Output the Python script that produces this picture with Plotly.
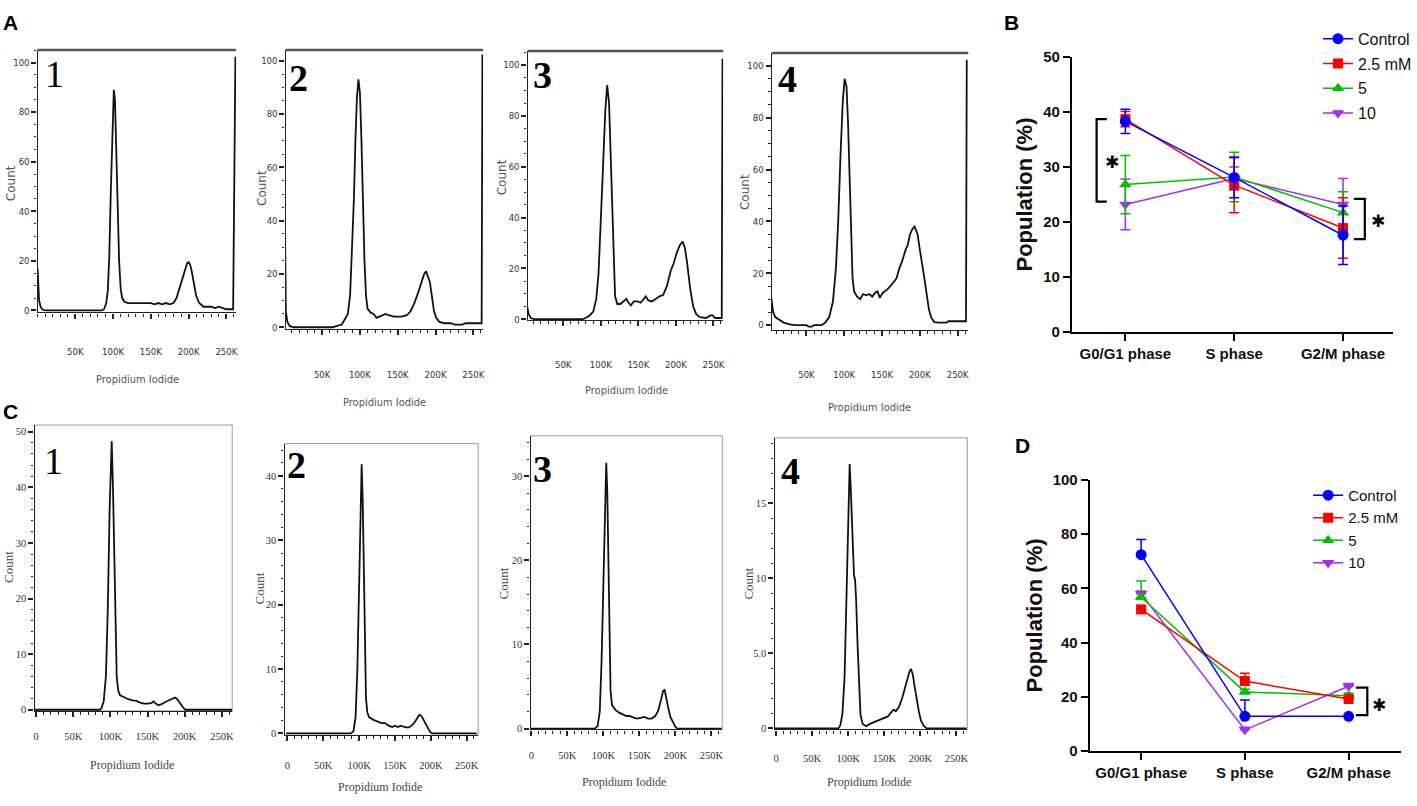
import plotly.graph_objects as go

# ======================= DATA =======================
# Panel A histograms: x = Propidium Iodide (thousands), y = Count
a1_x = [0, 1, 2, 4, 6, 10, 40, 85, 88, 91, 93, 95, 97, 99, 101, 102.5, 104, 106, 108, 110, 112, 115, 120,
        130, 150, 155, 160, 165, 170, 175, 180, 184, 187, 190, 193, 196, 198, 200, 202, 204, 207, 210, 214,
        220, 230, 235, 240, 250, 259, 262, 263]
a1_y = [17, 9, 4, 1.5, 0.5, 0, 0, 0, 0.5, 3, 8, 22, 48, 75, 89, 85, 68, 42, 20, 9, 5, 3.5, 3,
        3, 3, 2.5, 3, 2.5, 3, 2.5, 3, 5, 8, 11, 13, 17, 19, 19.5, 18.5, 16, 11, 6, 3,
        1.5, 1.5, 1, 1.5, 0.5, 0.5, 102, 102]

a2_x = [0, 0.8, 2, 4, 7, 12, 64, 70, 76, 80, 84, 87, 90, 92, 94, 96, 98, 100, 102, 104, 106, 108, 110,
        114, 118, 122, 126, 130, 134, 138, 145, 155, 162, 167, 172, 177, 181, 185, 187.5, 190, 192.5, 195,
        198, 201, 205, 212, 220, 226, 235, 240, 261, 262, 263]
a2_y = [62, 20, 6, 2, 0.5, 0, 0, 0.5, 1, 3, 5, 12, 30, 48, 70, 86, 93, 88, 70, 46, 25, 12, 7,
        5.5, 5, 3.5, 4, 4.5, 5, 4.5, 4, 4, 4.5, 6, 9, 13, 17, 20, 21, 19, 17, 12,
        6, 3.5, 2, 1.5, 1.5, 1, 1, 1.5, 1.5, 102, 102]

a3_x = [0, 0.8, 2, 4, 7, 12, 75, 80, 85, 90, 94, 97, 100, 103, 106, 108.5, 111, 113, 115, 117, 119, 122,
        126, 130, 134, 137, 140, 144, 149, 153, 157, 160, 163, 168, 173, 178, 183, 188, 193, 197, 201, 205,
        209, 212, 215, 219, 223, 227, 232, 240, 246, 249, 252, 261, 262, 263]
a3_y = [44, 15, 5, 2, 0.5, 0, 0, 0.5, 1.5, 3, 8, 18, 36, 60, 82, 92, 85, 66, 40, 20, 9, 6,
        6, 7, 8, 6.5, 5.5, 7, 7, 6.5, 8, 9, 7.5, 7, 8, 9, 9.5, 13, 19, 22, 26, 29,
        30.5, 28, 22, 12, 5, 2, 0.8, 0.5, 1.5, 1.5, 0.5, 0.5, 102, 102]

a4_x = [2, 4, 6, 9, 14, 20, 28, 35, 50, 53, 57, 60, 70, 75, 80, 85, 89, 92, 95, 98, 100.5, 103, 105, 107,
        109, 111, 113, 117, 121, 125, 129, 133, 137, 141, 144, 147, 151, 156, 161, 165, 169, 173, 177, 181,
        184, 187, 190, 193, 197, 200, 203, 206, 209, 212, 215, 219, 225, 235, 238, 261, 262, 263]
a4_y = [14, 10, 5, 3, 2, 1, 0.3, 0, 0, -0.6, -0.6, 0, 0, 1, 3, 9, 22, 40, 65, 86, 95, 92, 78, 55,
        32, 18, 13, 11, 10, 12, 11.5, 12, 11, 12.5, 13, 10.5, 12.5, 13.5, 15, 16.5, 18, 22, 25, 29,
        31, 35, 37, 38, 35, 29, 24, 18, 12, 6, 3, 1.2, 1, 1, 1.5, 1.5, 102, 102]

# Panel C histograms
c1_x = [-2, 86, 88, 91, 94, 96.5, 99, 100.8, 101.8, 103.5, 105, 107, 108.5, 110.5, 113, 118, 124, 130, 135,
        140, 145, 150, 155, 158, 161, 165, 169, 174, 179, 184, 187, 190, 194, 198, 201, 264]
c1_y = [0, 0, 0.3, 1.5, 6, 18, 36, 46, 48.3, 40, 28, 13, 6, 3.5, 2.6, 2.3, 1.9, 1.7, 1.6,
        1.3, 1.1, 1.1, 1.2, 1.5, 1.1, 0.8, 1.0, 1.4, 1.7, 2.0, 2.2, 1.9, 1.1, 0.4, 0, 0]

c2_x = [-2, 88, 92, 95, 97.5, 100, 102, 103.5, 105, 106.5, 108, 109.5, 111.5, 114, 120, 126, 131, 136, 141,
        146, 150, 154, 158, 163, 168, 172, 176, 180, 184, 187, 191, 195, 199, 202, 264]
c2_y = [0, 0, 0.3, 2.5, 10, 25, 37, 41.8, 36, 24, 12, 5.5, 3.2, 2.5, 2.1, 1.8, 1.6, 1.6, 1.2,
        1.0, 1.2, 1.0, 1.2, 1.0, 0.9, 1.1, 1.5, 2.2, 2.9, 2.7, 1.8, 0.9, 0.2, 0, 0]

c3_x = [-2, 88, 92, 95, 97.5, 100, 102, 104, 105.5, 107, 108.5, 110, 112, 117, 122, 127, 132, 137, 142,
        147, 152, 157, 162, 167, 172, 176, 180, 183, 185, 187, 190, 193, 197, 200, 203, 264]
c3_y = [0, 0, 0.3, 2, 8, 17, 26, 31.6, 28, 20, 11, 4.5, 2.8, 2.2, 1.9, 1.7, 1.5, 1.5, 1.3,
        1.2, 1.3, 1.4, 1.2, 1.2, 1.5, 2.1, 3.4, 4.5, 4.6, 3.9, 2.5, 1.4, 0.7, 0.2, 0, 0]

c4_x = [-2, 86, 89, 92, 95, 97.5, 99.5, 101, 102, 103.5, 105, 106.5, 108, 109.5, 111, 113, 115, 117, 120,
        125, 130, 135, 140, 145, 150, 155, 160, 163, 166, 170, 174, 178, 182, 185, 187, 189.5, 192, 195,
        198, 201, 205, 209, 264]
c4_y = [0, 0, 0.2, 1, 3.5, 8.5, 14, 17, 17.6, 16, 13.5, 11, 10.2, 9.9, 8.5, 5.5, 2.5, 0.9, 0.3,
        0.15, 0.3, 0.4, 0.5, 0.6, 0.65, 0.8, 1.1, 1.25, 1.15, 1.4, 1.9, 2.6, 3.3, 3.8, 3.95, 3.6, 2.8, 1.9,
        1.1, 0.5, 0.15, 0, 0]

a_xticks = [50, 100, 150, 200, 250]
a_xticktext = ["50K", "100K", "150K", "200K", "250K"]
c_xticks = [0, 50, 100, 150, 200, 250]
c_xticktext = ["0", "50K", "100K", "150K", "200K", "250K"]
a_yticks = [0, 20, 40, 60, 80, 100]
c1_yticks = [0, 10, 20, 30, 40, 50]
c2_yticks = [0, 10, 20, 30, 40]
c3_yticks = [0, 10, 20, 30]
c4_yticks = [0, 5, 10, 15]
c4_yticktext = ["0", "5.0", "10", "15"]

# Panels B and D: cell-cycle populations (%)
phases = ["G0/G1 phase", "S phase", "G2/M phase"]
series_names = ["Control", "2.5 mM", "5", "10"]

b_control = [38.3, 28.1, 17.6]
b_control_err = [2.2, 3.7, 5.3]
b_25 = [38.7, 26.7, 18.9]
b_25_err = [1.4, 5.0, 5.5]
b_5 = [26.8, 28.2, 21.7]
b_5_err = [5.3, 4.5, 3.8]
b_10 = [23.2, 27.9, 23.2]
b_10_err = [4.6, 2.1, 4.7]

d_control = [72.4, 12.8, 12.8]
d_control_err = [5.6, 6.0, 0.0]
d_25 = [52.2, 25.8, 19.2]
d_25_err = [1.5, 2.9, 1.0]
d_5 = [56.7, 21.8, 20.4]
d_5_err = [6.0, 1.0, 1.0]
d_10 = [58.0, 7.8, 23.9]
d_10_err = [1.0, 1.0, 1.0]

# ======================= STYLE / LAYOUT =======================
W, H = 1417, 806
SANS = "Liberation Sans, Arial, sans-serif"
NARROW = "Liberation Sans Narrow, DejaVu Sans Condensed, Arial Narrow, sans-serif"
SERIF = "Liberation Serif, Times New Roman, serif"
COLORS = ["#0000ff", "#ff0000", "#00c000", "#a52cf0"]
SYMBOLS = ["circle", "square", "triangle-up", "triangle-down"]
MSIZE = [11, 10, 11, 11]


def dx(px):
    return px / W


def dy(py):
    return 1 - py / H


def ax_names(n):
    return ("xaxis" if n == 1 else f"xaxis{n}", "yaxis" if n == 1 else f"yaxis{n}",
            "x" if n == 1 else f"x{n}", "y" if n == 1 else f"y{n}")


fig = go.Figure()
layout = dict(width=W, height=H, margin=dict(l=0, r=0, t=0, b=0),
              paper_bgcolor="white", plot_bgcolor="white", hovermode=False)
shapes = []
annotations = []


def ann(text, x, y, size, family, color="black", bold=False, angle=0, xref="paper", yref="paper",
        xanchor="center", yanchor="middle"):
    if xref == "paper":
        x = dx(x)
    if yref == "paper":
        y = dy(y)
    annotations.append(dict(text=text, x=x, y=y, xref=xref, yref=yref, showarrow=False,
                            textangle=angle, xanchor=xanchor, yanchor=yanchor,
                            font=dict(size=size, family=family, color=color,
                                      weight="bold" if bold else "normal")))


hist_specs = [
    dict(n=1, x=a1_x, y=a1_y, box=(36, 237, 42, 310), xr=[0, 263], yr=[-0.8, 105], style="A",
         yt=a_yticks, ytt=None, ymin=5, num="1", nbold=False, npos=(53, 66), cpos=(9, 178),
         ppos=(137, 378), so=25),
    dict(n=2, x=a2_x, y=a2_y, box=(287, 487, 42, 327), xr=[1.6, 263], yr=[-0.7, 104], style="A",
         yt=a_yticks, ytt=None, ymin=5, num="2", nbold=True, npos=(300, 70), cpos=(263, 183),
         ppos=(387, 402), so=31),
    dict(n=3, x=a3_x, y=a3_y, box=(532, 730, 43, 318), xr=[2.6, 263], yr=[-0.4, 105.4], style="A",
         yt=a_yticks, ytt=None, ymin=5, num="3", nbold=True, npos=(547, 67), cpos=(506, 172),
         ppos=(632, 390), so=30),
    dict(n=4, x=a4_x, y=a4_y, box=(779, 978, 45, 328), xr=[4, 264], yr=[-1.9, 104.9], style="A",
         yt=a_yticks, ytt=None, ymin=5, num="4", nbold=True, npos=(795, 71), cpos=(752, 187),
         ppos=(878, 407), so=30),
    dict(n=5, x=c1_x, y=c1_y, box=(33, 233, 425, 717), xr=[-2, 264], yr=[-0.2, 51.2], style="C",
         yt=c1_yticks, ytt=None, ymin=2, num="1", nbold=False, npos=(52, 462), cpos=(7, 570),
         ppos=(132, 772), so=10),
    dict(n=6, x=c2_x, y=c2_y, box=(286, 482, 444, 742), xr=[-4, 266], yr=[-0.3, 45], style="C",
         yt=c2_yticks, ytt=None, ymin=2, num="2", nbold=True, npos=(298, 466), cpos=(261, 592),
         ppos=(383, 795), so=15),
    dict(n=7, x=c3_x, y=c3_y, box=(535, 729, 436, 736), xr=[-1, 265], yr=[-0.1, 34.8], style="C",
         yt=c3_yticks, ytt=None, ymin=2, num="3", nbold=True, npos=(547, 470), cpos=(508, 587),
         ppos=(630, 790), so=11),
    dict(n=8, x=c4_x, y=c4_y, box=(782, 977, 438, 736), xr=[-2, 265], yr=[-0.07, 19.35], style="C",
         yt=c4_yticks, ytt=c4_yticktext, ymin=1, num="4", nbold=True, npos=(798, 472), cpos=(756, 587),
         ppos=(878, 790), so=14),
]

for s in hist_specs:
    xa, ya, xr_, yr_ = ax_names(s["n"])
    l, r, t, b = s["box"]
    A = s["style"] == "A"
    tfont = dict(family=NARROW if A else SERIF, size=9.5 if A else 10.5, color="#333")
    fig.add_trace(go.Scatter(x=s["x"], y=s["y"], mode="lines", xaxis=xr_, yaxis=yr_,
                             line=dict(color="#111", width=1.8), showlegend=False))
    layout[xa] = dict(domain=[dx(l), dx(r)], range=s["xr"], anchor=yr_, showline=True,
                      linecolor="#222", linewidth=1.3, ticks="outside", ticklen=5, tickwidth=1.5,
                      tickcolor="#222", tickmode="array",
                      tickvals=a_xticks if A else c_xticks,
                      ticktext=a_xticktext if A else c_xticktext,
                      tickfont=tfont, ticklabelstandoff=s["so"], showgrid=False, zeroline=False,
                      minor=dict(tickmode="linear", tick0=0, dtick=10, ticks="outside", ticklen=3,
                                 tickwidth=1, tickcolor="#222", showgrid=False))
    ydict = dict(domain=[dy(b), dy(t)], range=s["yr"], anchor=xr_, showline=True,
                 linecolor="#222", linewidth=1.3, ticks="outside", ticklen=5, tickwidth=1.5,
                 tickcolor="#222", tickmode="array", tickvals=s["yt"], tickfont=tfont,
                 showgrid=False, zeroline=False,
                 minor=dict(tickmode="linear", tick0=0, dtick=s["ymin"], ticks="outside", ticklen=2.5,
                            tickwidth=1, tickcolor="#222", showgrid=False))
    if s["ytt"] is not None:
        ydict["ticktext"] = s["ytt"]
    layout[ya] = ydict
    if A:
        shapes.append(dict(type="line", xref=f"{xr_} domain", yref=f"{yr_} domain", x0=0, x1=1,
                           y0=1, y1=1, line=dict(color="#555", width=2.5)))
        ann("Count", s["cpos"][0], s["cpos"][1], 12, "DejaVu Sans, sans-serif", color="#555", angle=-90)
        ann("Propidium Iodide", s["ppos"][0], s["ppos"][1], 11, NARROW, color="#555")
    else:
        shapes.append(dict(type="rect", xref=f"{xr_} domain", yref=f"{yr_} domain", x0=0, x1=1,
                           y0=0, y1=1, line=dict(color="#999", width=1), layer="below"))
        ann("Count", s["cpos"][0], s["cpos"][1], 13, SERIF, color="#444", angle=-90)
        ann("Propidium Iodide", s["ppos"][0], s["ppos"][1], 12, SERIF, color="#444")
    ann(s["num"], s["npos"][0], s["npos"][1], 38, SERIF, bold=s["nbold"])

# ---- Line charts B (axis 9) and D (axis 10) ----
line_specs = [
    dict(n=9, box=(1083, 1408, 49, 330), xr=[-0.49, 2.46], yr=[0, 50], dtick=10, legend="legend",
         vals=[b_control, b_25, b_5, b_10], errs=[b_control_err, b_25_err, b_5_err, b_10_err],
         sym=True, cap=5, tstand=5),
    dict(n=10, box=(1101, 1416, 481, 758), xr=[-0.495, 2.505], yr=[0, 100], dtick=20, legend="legend2",
         vals=[d_control, d_25, d_5, d_10], errs=[d_control_err, d_25_err, d_5_err, d_10_err],
         sym=False, cap=5, tstand=4),
]

for s in line_specs:
    xa, ya, xr_, yr_ = ax_names(s["n"])
    l, r, t, b = s["box"]
    for k in [3, 2, 1, 0]:
        err = dict(type="data", array=s["errs"][k], color=COLORS[k], thickness=1.5, width=s["cap"])
        if not s["sym"]:
            err["symmetric"] = False
            err["arrayminus"] = [0, 0, 0]
        fig.add_trace(go.Scatter(
            x=phases, y=s["vals"][k], mode="lines+markers", name=series_names[k],
            xaxis=xr_, yaxis=yr_, legend=s["legend"], legendrank=k + 1,
            legendgroup=f"{s['legend']}_{k}", cliponaxis=False,
            line=dict(color=COLORS[k], width=1.5),
            marker=dict(symbol=SYMBOLS[k], size=MSIZE[k], color=COLORS[k]),
            error_y=err))
    common = dict(showline=True, linecolor="black", linewidth=2.2, ticks="outside", ticklen=7,
                  tickwidth=2, tickcolor="black", showgrid=False, zeroline=False,
                  tickfont=dict(family=SANS, size=15, color="#111", weight="bold"))
    layout[xa] = dict(domain=[dx(l), dx(r)], range=s["xr"], anchor=yr_, type="category",
                      categoryorder="array", categoryarray=phases, **common)
    layout[ya] = dict(domain=[dy(b), dy(t)], range=s["yr"], anchor=xr_, tick0=0, dtick=s["dtick"],
                      title=dict(text="Population (%)", standoff=s["tstand"],
                                 font=dict(family=SANS, size=22, color="#111", weight="bold")),
                      **common)

layout["legend"] = dict(x=dx(1332), y=dy(13), xanchor="left", yanchor="top", bgcolor="rgba(0,0,0,0)",
                        font=dict(family=SANS, size=16, color="#111"), tracegroupgap=1,
                        itemclick=False)
layout["legend2"] = dict(x=dx(1322), y=dy(480), xanchor="left", yanchor="top", bgcolor="rgba(0,0,0,0)",
                         font=dict(family=SANS, size=15, color="#111"), tracegroupgap=0,
                         itemclick=False)

# significance brackets (category-index x, data y)
brackets = [
    dict(ax=9, xo=-0.264, xi=-0.17, y0=38.7, y1=23.7, sx=-0.125, sy=30.9),
    dict(ax=9, xo=2.20, xi=2.10, y0=24.2, y1=16.9, sx=2.32, sy=20.2),
    dict(ax=10, xo=2.18, xi=2.07, y0=23.4, y1=13.2, sx=2.29, sy=17.0),
]
for br in brackets:
    _, _, xr_, yr_ = ax_names(br["ax"])
    shapes.append(dict(type="path", xref=xr_, yref=yr_,
                       path=f"M {br['xi']},{br['y0']} L {br['xo']},{br['y0']} L {br['xo']},{br['y1']} L {br['xi']},{br['y1']}",
                       line=dict(color="black", width=2.2)))
    ann("✱", br["sx"], br["sy"], 17, "DejaVu Sans, sans-serif", xref=xr_, yref=yr_)

# panel letters
for letter, (px, py) in zip(["A", "B", "C", "D"], [(9, 14), (1022, 14), (9, 411), (1033, 446)]):
    ann(letter, px, py, 21, SANS, bold=True)

layout["shapes"] = shapes
layout["annotations"] = annotations
fig.update_layout(**layout)
fig.write_html("out.html", config={"displayModeBar": False, "responsive": False},
               post_script="document.documentElement.style.margin='0';document.body.style.margin='0';"
                           "document.documentElement.style.overflow='hidden';document.body.style.overflow='hidden';")
